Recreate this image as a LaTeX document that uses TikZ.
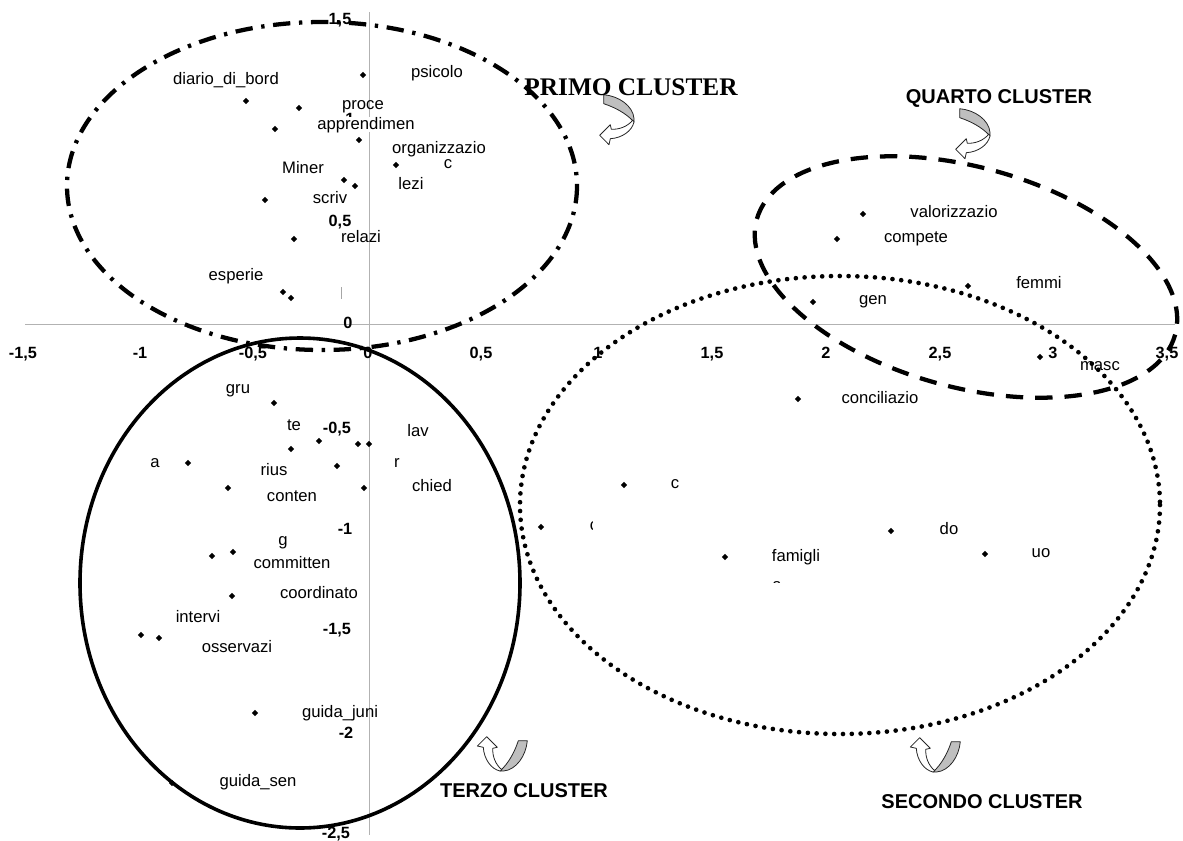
\documentclass[tikz,border=0pt]{standalone}
\usepackage{fontspec}
\newfontfamily\arialf{Liberation Sans}
\newfontfamily\timesf{Liberation Serif}
\usetikzlibrary{shapes.geometric}
\begin{document}
\begin{tikzpicture}[x=0.75pt,y=-0.75pt,
  axisline/.style={draw=black!30, line width=0.75pt},
  mk/.style={diamond, fill=black, inner sep=0pt, minimum size=5pt},
  lab/.style={font=\arialf\fontsize{12.5}{14}\selectfont, anchor=base, inner sep=0pt},
  tick/.style={font=\arialf\bfseries\fontsize{12.2}{14}\selectfont, anchor=base, inner sep=0pt},
  titlesans/.style={font=\arialf\bfseries\fontsize{15}{18}\selectfont, anchor=base, inner sep=0pt},
  titleserif/.style={font=\timesf\bfseries\fontsize{19}{22}\selectfont, anchor=base, inner sep=0pt},
  dashdotring/.style={line width=3.2pt, dash pattern=on 13pt off 6.5pt on 2.5pt off 6.5pt},
  dashring/.style={line width=3.2pt, dash pattern=on 13pt off 9pt},
  dotring/.style={line width=3.5pt, line cap=round, dash pattern=on 0pt off 6.6pt},
  solidring/.style={line width=2.7pt},
  uturn/.pic={
    \filldraw[fill=black!25, draw=black!85, line width=0.6pt, line join=round]
      (0,0) .. controls (9,-8) and (15,-20) .. (18.3,-30.3) -- (27.3,-30.3)
      .. controls (26,-15) and (16,-1) .. (3.5,0) -- cycle;
    \filldraw[fill=white, draw=black!85, line width=0.6pt, line join=round]
      (2,-1) .. controls (-5,-7) and (-7.5,-15) .. (-7.3,-22.7) -- (-2.7,-23.7)
      -- (-13.3,-34.3) -- (-22.7,-25) -- (-16.7,-23.7)
      .. controls (-16,-12) and (-9,-2) .. (0,0) -- cycle;
  }
]
\useasboundingbox (0,0) rectangle (1183,840);

% axes
\coordinate (xl) at (25,324);
\coordinate (xr) at (1175,324);
\coordinate (yt) at (369,12);
\coordinate (yb) at (369,835);
\draw[axisline] (xl) -- (xr);
\draw[axisline] (yt) -- (yb);
\draw[black!35, line width=0.75pt] (341,287) -- (341,299);

% axis tick labels
\foreach \v/\px [count=\i] in {-1{,}5/23, -1/140, -0{,}5/253, 0/368, 0{,}5/481, 1/598, 1{,}5/712, 2/826, 2{,}5/940, 3/1053, 3{,}5/1167}
  \node[tick] (hx\i) at (\px,358) {\v};
\node[tick] (vy1) at (340,24) {1,5};
\node[tick] (vy2) at (350,124) {1};
\node[tick] (vy3) at (340,226) {0,5};
\node[tick] (vy4) at (348,328) {0};
\node[tick] (vy5) at (337,433) {-0,5};
\node[tick] (vy6) at (345,534) {-1};
\node[tick] (vy7) at (337,634) {-1,5};
\node[tick] (vy8) at (346,738) {-2};
\node[tick] (vy9) at (336,838) {-2,5};

% data points
\foreach \px/\py [count=\i] in {
  363/75, 246/101, 299/108, 275/129, 359/140, 396/165, 344/180, 355/186,
  265/200, 294/239, 283/292, 291/298,
  274/403, 319/441, 358/444, 369/444, 291/449, 188/463, 337/466, 228/488,
  364/488, 233/552, 212/556, 232/596, 141/635, 159/638, 255/713, 172/783,
  798/399, 624/485, 541/527, 725/557, 891/531, 985/554,
  863/214, 837/239, 968/286, 813/302, 1040/357}
  \node[mk] (p\i) at (\px,\py) {};

% word labels
\node[lab] (lpsicolo) at (437,77) {psicolo};
\node[lab] (ldiario) at (226,84) {diario\_di\_bord};
\node[lab] (lproce) at (363,109) {proce};
\node[lab, fill=white] (lappr) at (366,129) {apprendimen};
\node[lab] (lorg) at (439,153) {organizzazio};
\node[lab] (lcA) at (448,168) {c};
\node[lab] (lminer) at (303,173) {Miner};
\node[lab] (llezi) at (411,189) {lezi};
\node[lab] (lscriv) at (330,203) {scriv};
\node[lab] (lrelazi) at (361,242) {relazi};
\node[lab] (lesperie) at (236,280) {esperie};

\node[lab] (lgru) at (238,393) {gru};
\node[lab] (lte) at (294,430) {te};
\node[lab] (llav) at (418,436) {lav};
\node[lab] (la) at (155,467) {a};
\node[lab] (lrius) at (274,475) {rius};
\node[lab] (lr) at (397,467) {r};
\node[lab] (lchied) at (432,491) {chied};
\node[lab] (lconten) at (292,501) {conten};
\node[lab] (lg) at (283,545) {g};
\node[lab] (lcommitten) at (292,568) {committen};
\node[lab] (lcoord) at (319,598) {coordinato};
\node[lab] (lintervi) at (198,622) {intervi};
\node[lab] (losserv) at (237,652) {osservazi};
\node[lab] (ljuni) at (340,717) {guida\_juni};
\node[lab] (lsen) at (258,786) {guida\_sen};

\node[lab] (lconc) at (880,403) {conciliazio};
\node[lab] (lcB) at (675,488) {c};
\begin{scope}
  \clip (586,516) rectangle (592.5,536);
  \node[lab] (lcC) at (594,530) {c};
\end{scope}
\node[lab] (lfam) at (796,561) {famigli};
\begin{scope}
  \clip (768,576) rectangle (787,582.5);
  \node[lab] (lfamb) at (777,590) {a};
\end{scope}
\node[lab] (ldo) at (949,534) {do};
\node[lab] (luo) at (1041,557) {uo};
\node[lab] (lvalor) at (954,217) {valorizzazio};
\node[lab] (lcompete) at (916,242) {compete};
\node[lab] (lfemmi) at (1039,288) {femmi};
\node[lab] (lgen) at (873,304) {gen};
\node[lab] (lmasc) at (1100,370) {masc};

% cluster outlines
\coordinate (c1) at (322,186);
\coordinate (c2) at (840,505);
\coordinate (c3) at (300,583);
\coordinate (c4) at (966,277);
\draw[dashdotring] (c1) ellipse [x radius=255, y radius=164];
\draw[dotring] (c2) ellipse [x radius=320, y radius=229];
\draw[solidring] (c3) ellipse [x radius=220, y radius=245];
\draw[dashring, rotate around={-15.4:(c4)}] (c4) ellipse [x radius=217, y radius=110];

% curved pointers and cluster titles
\pic[rotate=90] (arrA) at (634,122) {uturn};
\pic[rotate=90] (arrD) at (990,136) {uturn};
\pic (arrC) at (500,771) {uturn};
\pic (arrB) at (933,772) {uturn};

\node[titleserif] (tprimo) at (631,95) {PRIMO CLUSTER};
\node[titlesans] (tquarto) at (999,103) {QUARTO CLUSTER};
\node[titlesans] (tterzo) at (524,797) {TERZO CLUSTER};
\node[titlesans] (tsecondo) at (982,808) {SECONDO CLUSTER};
\end{tikzpicture}
\end{document}
